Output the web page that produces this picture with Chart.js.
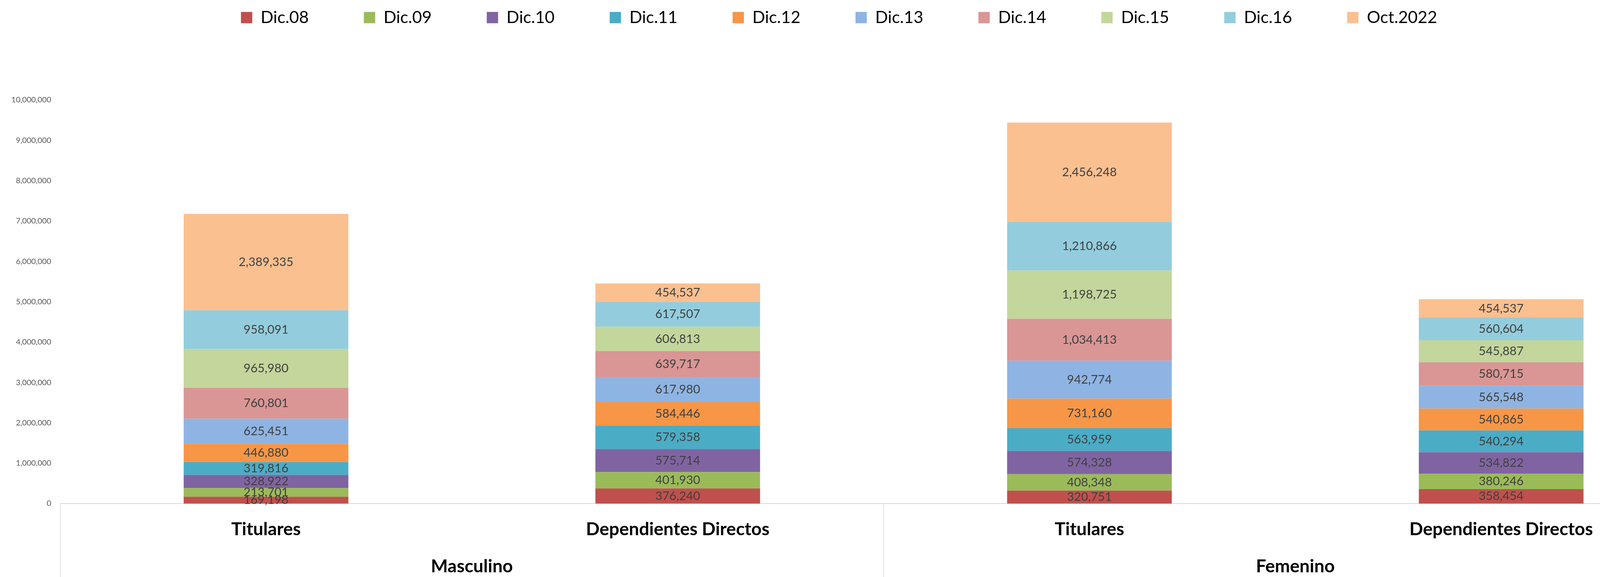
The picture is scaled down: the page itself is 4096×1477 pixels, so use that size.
<!DOCTYPE html>
<html>
<head>
<meta charset="utf-8">
<script src="https://cdn.jsdelivr.net/npm/chart.js@4"></script>
<style>
  html, body { margin: 0; padding: 0; background: #fff; overflow: hidden; }
  #caja { position: relative; width: 4370px; height: 1477px; }
</style>
</head>
<body>
<div id="caja"><canvas id="grafico"></canvas></div>
<script>
// Datos del gráfico
const categorias = ['Titulares', 'Dependientes Directos', 'Titulares', 'Dependientes Directos'];
const grupos = ['Masculino', 'Femenino'];
const series = ['Dic.08', 'Dic.09', 'Dic.10', 'Dic.11', 'Dic.12', 'Dic.13', 'Dic.14', 'Dic.15', 'Dic.16', 'Oct.2022'];

const dic08 = [169198, 376240, 320751, 358454];
const dic09 = [213701, 401930, 408348, 380246];
const dic10 = [328922, 575714, 574328, 534822];
const dic11 = [319816, 579358, 563959, 540294];
const dic12 = [446880, 584446, 731160, 540865];
const dic13 = [625451, 617980, 942774, 565548];
const dic14 = [760801, 639717, 1034413, 580715];
const dic15 = [965980, 606813, 1198725, 545887];
const dic16 = [958091, 617507, 1210866, 560604];
const oct2022 = [2389335, 454537, 2456248, 454537];

const ejeMin = 0;
const ejeMax = 10000000;
const ejePaso = 1000000;

const colores = ['#C0504D', '#9BBB59', '#8064A2', '#4BACC6', '#F79646', '#8EB4E3', '#D99694', '#C3D69B', '#93CDDD', '#FAC090'];
const valores = [dic08, dic09, dic10, dic11, dic12, dic13, dic14, dic15, dic16, oct2022];

const fmt = v => Number(v).toLocaleString('en-US');

// Etiquetas de valor centradas en cada segmento
const etiquetasValor = {
    id: 'etiquetasValor',
    afterDatasetsDraw(chart) {
        const ctx = chart.ctx;
        ctx.save();
        ctx.font = '31px Lato';
        ctx.fillStyle = '#404040';
        ctx.textAlign = 'center';
        ctx.textBaseline = 'middle';
        chart.data.datasets.forEach((ds, i) => {
            chart.getDatasetMeta(i).data.forEach((barra, j) => {
                ctx.fillText(fmt(ds.data[j]), barra.x, (barra.y + barra.base) / 2);
            });
        });
        ctx.restore();
    }
};

// Líneas separadoras entre grupos (Masculino / Femenino)
const separadores = {
    id: 'separadores',
    afterDraw(chart) {
        const s = chart.scales.x2;
        const ctx = chart.ctx;
        ctx.save();
        ctx.strokeStyle = '#d9d9d9';
        ctx.lineWidth = 1.5;
        for (let i = -0.5; i < grupos.length; i++) {
            const x = Math.round(s.getPixelForValue(i)) + 0.5;
            ctx.beginPath();
            ctx.moveTo(x, chart.chartArea.bottom);
            ctx.lineTo(x, chart.height);
            ctx.stroke();
        }
        ctx.restore();
    }
};

// Ajuste de la leyenda (posición como en Excel)
const moverLeyenda = {
    id: 'moverLeyenda',
    afterLayout(chart) {
        const lg = chart.legend;
        const pad = lg.options.labels.padding;
        const fs = lg.options.labels.font.size;
        lg.left -= 37;
        lg.right -= 37;
        lg.top = 45 - pad - fs / 2;
    }
};

const fuenteEje = { family: 'Lato', size: 46, weight: 'bold' };

new Chart(document.getElementById('grafico'), {
    type: 'bar',
    data: {
        labels: categorias,
        datasets: series.map((nombre, i) => ({
            label: nombre,
            data: valores[i],
            backgroundColor: colores[i],
            borderWidth: 0,
            categoryPercentage: 1,
            barPercentage: 0.4
        }))
    },
    options: {
        responsive: true,
        maintainAspectRatio: false,
        animation: false,
        devicePixelRatio: 1,
        layout: { padding: { top: 106, left: 0, right: 0, bottom: 0 } },
        plugins: {
            tooltip: { enabled: false },
            legend: {
                position: 'top',
                maxHeight: 150,
                labels: {
                    boxWidth: 29,
                    boxHeight: 29,
                    padding: 141,
                    color: '#000',
                    font: { family: 'Lato', size: 43 }
                }
            }
        },
        scales: {
            x: {
                stacked: true,
                offset: true,
                grid: { display: true, drawOnChartArea: false, drawTicks: false },
                border: { display: true, color: '#d9d9d9', width: 2 },
                ticks: { color: '#000', font: fuenteEje, padding: 39, maxRotation: 0, autoSkip: false },
                afterFit: s => { s.height = 100; }
            },
            x2: {
                type: 'category',
                labels: grupos,
                position: 'bottom',
                offset: true,
                grid: { display: false, drawTicks: false },
                border: { display: false },
                ticks: { color: '#000', font: fuenteEje, padding: 34, maxRotation: 0 },
                afterFit: s => { s.height = 88; }
            },
            y: {
                stacked: true,
                min: ejeMin,
                max: ejeMax,
                grid: { display: false, drawTicks: false },
                border: { display: false },
                ticks: {
                    stepSize: ejePaso,
                    color: '#595959',
                    font: { family: 'Lato', size: 20 },
                    padding: 23,
                    callback: v => fmt(v)
                },
                afterFit: s => { s.width = 154; }
            }
        }
    },
    plugins: [etiquetasValor, separadores, moverLeyenda]
});
</script>
</body>
</html>
